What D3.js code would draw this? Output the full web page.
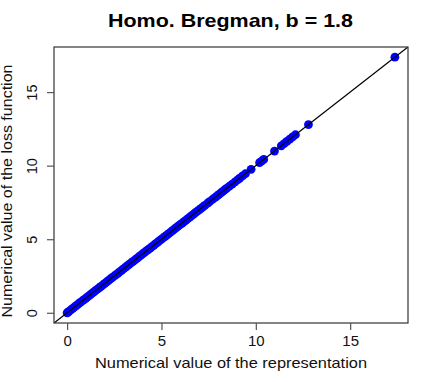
<!DOCTYPE html>
<html><head><meta charset="utf-8">
<script src="https://cdn.jsdelivr.net/npm/d3@7"></script>
<style>body{margin:0;background:#fff}svg{display:block}text{font-family:"Liberation Sans",Arial,Helvetica,sans-serif}</style>
</head><body>
<svg id="c" width="436" height="382"></svg>
<script>
const title = "Homo. Bregman, b = 1.8";
const xLabel = "Numerical value of the representation";
const yLabel = "Numerical value of the loss function";
const xTicks = [0, 5, 10, 15];
const yTicks = [0, 5, 10, 15];
const representation = [0,0.05,0.1,0.2,0.3,0.4,0.5,0.6,0.7,0.8,0.9,1.0,1.1,1.2,1.3,1.4,1.5,1.6,1.7,1.8,1.9,2.0,
 2.1,2.2,2.3,2.4,2.5,2.6,2.7,2.8,2.9,3.0,3.1,3.2,3.3,3.4,3.5,3.6,3.7,3.8,3.9,4.0,4.1,4.2,4.3,4.4,4.5,4.6,4.7,
 4.8,4.9,5.0,5.1,5.2,5.3,5.4,5.5,5.6,5.7,5.8,5.9,6.0,6.1,6.2,6.3,6.4,6.5,6.6,6.7,6.8,6.9,7.0,7.1,7.2,7.3,7.45,
 7.55,7.7,7.85,7.95,8.05,8.15,8.25,8.35,8.45,8.6,8.75,8.9,9.05,9.15,9.3,9.45,9.75,10.2,10.3,10.42,10.99,11.35,
 11.5,11.65,11.8,11.95,12.1,12.79,17.37];
const loss = [0,0.05,0.1,0.2,0.3,0.4,0.5,0.6,0.7,0.8,0.9,1.0,1.1,1.2,1.3,1.4,1.5,1.6,1.7,1.8,1.9,2.0,
 2.1,2.2,2.3,2.4,2.5,2.6,2.7,2.8,2.9,3.0,3.1,3.2,3.3,3.4,3.5,3.6,3.7,3.8,3.9,4.0,4.1,4.2,4.3,4.4,4.5,4.6,4.7,
 4.8,4.9,5.0,5.1,5.2,5.3,5.4,5.5,5.6,5.7,5.8,5.9,6.0,6.1,6.2,6.3,6.4,6.5,6.6,6.7,6.8,6.9,7.0,7.1,7.2,7.3,7.45,
 7.55,7.7,7.85,7.95,8.05,8.15,8.25,8.35,8.45,8.6,8.75,8.9,9.05,9.15,9.3,9.45,9.75,10.2,10.3,10.42,10.99,11.35,
 11.5,11.65,11.8,11.95,12.1,12.79,17.37];

const svg = d3.select("#c");
const L = 54, R = 408, T = 47, B = 323;
function pad(ext){ const d = (ext[1]-ext[0])*0.04; return [ext[0]-d, ext[1]+d]; }
const x = d3.scaleLinear().domain(pad(d3.extent(representation))).range([L, R]);
const y = d3.scaleLinear().domain(pad(d3.extent(loss))).range([B, T]);

const pts = representation.map((v,i)=>({x:v,y:loss[i]}));

svg.append("clipPath").attr("id","cp").append("rect")
  .attr("x",L).attr("y",T).attr("width",R-L).attr("height",B-T);

svg.append("g").selectAll("circle").data(pts).join("circle")
  .attr("cx",d=>x(d.x)).attr("cy",d=>y(d.y)).attr("r",4.4).attr("fill","#0000ff");

// abline y = x
const dom = x.domain();
svg.append("line").attr("clip-path","url(#cp)")
  .attr("x1",x(dom[0])).attr("y1",y(dom[0])).attr("x2",x(dom[1])).attr("y2",y(dom[1]))
  .attr("stroke","#000").attr("stroke-width",1.3);

// box
svg.append("rect").attr("x",L).attr("y",T).attr("width",R-L).attr("height",B-T)
  .attr("fill","none").attr("stroke","#333").attr("stroke-width",1.2);

// x axis
const gx = svg.append("g").attr("transform",`translate(0,${B})`)
  .call(d3.axisBottom(x).tickValues(xTicks).tickSize(7).tickPadding(5).tickFormat(d3.format("d")));
gx.select(".domain").remove();
gx.selectAll("line").attr("stroke","#555").attr("stroke-width",1.2);
gx.selectAll("text").attr("font-size",15).attr("fill","#111").attr("font-family","Liberation Sans, Arial, sans-serif");

// y axis
const gy = svg.append("g").attr("transform",`translate(${L},0)`)
  .call(d3.axisLeft(y).tickValues(yTicks).tickSize(7).tickFormat(d3.format("d")));
gy.select(".domain").remove();
gy.selectAll("line").attr("stroke","#555").attr("stroke-width",1.2);
gy.selectAll("text").attr("font-size",14.5).attr("fill","#111").attr("font-family","Liberation Sans, Arial, sans-serif")
  .attr("x",null).attr("dy",null).attr("text-anchor","middle")
  .attr("transform","translate(-17,0) rotate(-90)");

svg.append("text").attr("x",230.5).attr("y",27).attr("text-anchor","middle")
  .attr("font-weight","bold").attr("font-size",19).attr("fill","#000")
  .attr("textLength",245).attr("lengthAdjust","spacingAndGlyphs").text(title);
svg.append("text").attr("x",231).attr("y",368).attr("text-anchor","middle")
  .attr("font-size",14.5).attr("fill","#111")
  .attr("textLength",272).attr("lengthAdjust","spacingAndGlyphs").text(xLabel);
svg.append("text").attr("transform",`translate(12,191) rotate(-90)`).attr("text-anchor","middle")
  .attr("font-size",14).attr("fill","#111")
  .attr("textLength",253).attr("lengthAdjust","spacingAndGlyphs").text(yLabel);
</script>
</body></html>
